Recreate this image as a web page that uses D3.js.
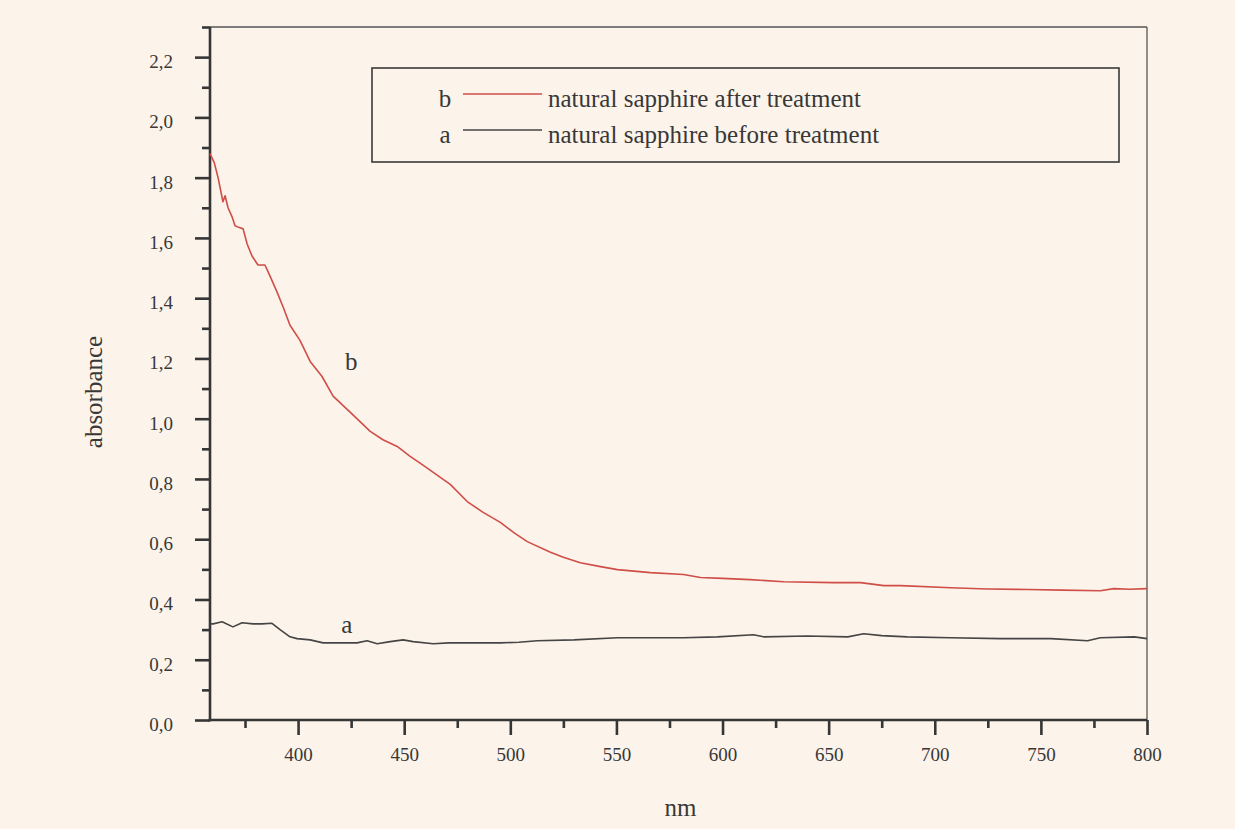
<!DOCTYPE html>
<html>
<head>
<meta charset="utf-8">
<script src="https://cdn.jsdelivr.net/npm/d3@7"></script>
<style>
  html, body { margin: 0; padding: 0; background: #fcf3ea; }
  svg { display: block; }
  text { font-family: "Liberation Serif", "Times New Roman", serif; fill: #383838; }
</style>
</head>
<body>
<svg id="chart" width="1235" height="829"></svg>
<script>
// ---- data ----
const xTickValues = [400, 450, 500, 550, 600, 650, 700, 750, 800];
const yTickValues = [0, 0.2, 0.4, 0.6, 0.8, 1.0, 1.2, 1.4, 1.6, 1.8, 2.0, 2.2];
const seriesNames = ["b", "a"];
const legendLabels = ["natural sapphire after treatment", "natural sapphire before treatment"];

const afterNm = [358.5, 360.5, 362.3, 364.6, 365.6, 367.0, 368.9, 370.3, 372.0, 374.1, 376.0, 378.3, 381.1, 384.4, 387.0, 390.1, 393.0, 396.2, 400.9, 405.7, 411.3, 416.5, 424.5, 434.0, 440.0, 446.7, 452.8, 458.0, 463.7, 471.7, 479.7, 487.0, 495.3, 502.0, 508.0, 518.9, 525.0, 533.0, 542.5, 550.5, 566.0, 581.6, 589.6, 600.0, 613.0, 628.8, 652.0, 665.0, 676.0, 684.0, 707.5, 725.0, 743.9, 760.0, 778.0, 784.4, 792.0, 800.0];
const afterAbs = [1.88, 1.85, 1.80, 1.72, 1.74, 1.70, 1.67, 1.64, 1.635, 1.63, 1.58, 1.54, 1.51, 1.51, 1.47, 1.42, 1.37, 1.31, 1.26, 1.19, 1.14, 1.075, 1.022, 0.958, 0.93, 0.908, 0.875, 0.85, 0.822, 0.782, 0.725, 0.69, 0.656, 0.62, 0.592, 0.557, 0.54, 0.522, 0.509, 0.499, 0.489, 0.483, 0.473, 0.47, 0.466, 0.459, 0.456, 0.456, 0.446, 0.446, 0.439, 0.435, 0.433, 0.431, 0.429, 0.436, 0.434, 0.436];

const beforeNm = [358.5, 360.0, 364.2, 369.3, 373.6, 378.8, 383.0, 387.7, 391.5, 396.2, 399.5, 405.7, 411.8, 419.8, 427.8, 432.5, 437.3, 443.4, 449.5, 454.2, 463.7, 471.0, 479.7, 487.0, 495.3, 504.0, 512.7, 530.0, 550.5, 565.0, 581.6, 597.6, 614.6, 619.3, 640.0, 659.0, 666.5, 675.0, 687.0, 707.5, 731.0, 754.7, 772.0, 778.0, 794.0, 800.0];
const beforeAbs = [0.319, 0.319, 0.326, 0.309, 0.323, 0.319, 0.319, 0.321, 0.30, 0.276, 0.27, 0.266, 0.256, 0.256, 0.256, 0.263, 0.253, 0.26, 0.266, 0.26, 0.253, 0.256, 0.256, 0.256, 0.256, 0.258, 0.263, 0.266, 0.273, 0.273, 0.273, 0.276, 0.283, 0.276, 0.279, 0.276, 0.286, 0.28, 0.276, 0.273, 0.27, 0.27, 0.263, 0.273, 0.276, 0.27];

// ---- layout ----
const svg = d3.select("#chart");
const mLeft = 210, mRight = 1147, mTop = 27, mBottom = 720;
const x = d3.scaleLinear().domain([358.5, 800]).range([mLeft, mRight]);
const y = d3.scaleLinear().domain([0, 2.3]).range([mBottom, mTop]);

const axisColor = "#363636";
const fmt = v => d3.format(".1f")(v).replace(".", ",");

// frame (top and right, thin)
svg.append("line").attr("x1", mLeft).attr("x2", mRight).attr("y1", y(2.3)).attr("y2", y(2.3))
  .attr("stroke", "#555").attr("stroke-width", 1.3);
svg.append("line").attr("x1", mRight).attr("x2", mRight).attr("y1", y(2.3)).attr("y2", mBottom)
  .attr("stroke", "#555").attr("stroke-width", 1.3);

// y axis
const yMinor = d3.range(1, 24, 2).map(i => i / 10);
const yAxis = svg.append("g").attr("transform", `translate(${mLeft},0)`)
  .call(d3.axisLeft(y).tickValues(yTickValues).tickFormat(fmt).tickSize(15).tickPadding(22));
const yAxisMinor = svg.append("g").attr("transform", `translate(${mLeft},0)`)
  .call(d3.axisLeft(y).tickValues(yMinor).tickFormat("").tickSize(8));

// x axis
const xMinor = d3.range(375, 800, 50);
const xAxis = svg.append("g").attr("transform", `translate(0,${mBottom})`)
  .call(d3.axisBottom(x).tickValues(xTickValues).tickFormat(d3.format("d")).tickSize(15).tickPadding(13));
const xAxisMinor = svg.append("g").attr("transform", `translate(0,${mBottom})`)
  .call(d3.axisBottom(x).tickValues(xMinor).tickFormat("").tickSize(8));

[yAxis, yAxisMinor, xAxis, xAxisMinor].forEach(g => {
  g.select(".domain").remove();
  g.selectAll(".tick line").attr("stroke", axisColor).attr("stroke-width", 2.6);
  g.selectAll(".tick text").attr("font-size", 19).attr("fill", "#383838")
    .attr("font-family", '"Liberation Serif", serif');
});
yAxis.selectAll(".tick text").attr("dy", "0.55em");

// axis lines drawn explicitly so they meet in the corner
svg.append("line").attr("x1", mLeft).attr("x2", mLeft).attr("y1", y(2.3)).attr("y2", mBottom + 1.3)
  .attr("stroke", axisColor).attr("stroke-width", 2.6);
svg.append("line").attr("x1", mLeft - 1.3).attr("x2", mRight).attr("y1", mBottom).attr("y2", mBottom)
  .attr("stroke", axisColor).attr("stroke-width", 2.6);

// axis titles
svg.append("text").attr("x", (mLeft + mRight) / 2 + 2).attr("y", 816)
  .attr("text-anchor", "middle").attr("font-size", 25).text("nm");
svg.append("text").attr("transform", "translate(102,392) rotate(-90)")
  .attr("text-anchor", "middle").attr("font-size", 25).text("absorbance");

// curves
const line = d3.line().x(d => x(d[0])).y(d => y(d[1])).curve(d3.curveLinear);
const afterData = afterNm.map((v, i) => [v, afterAbs[i]]);
const beforeData = beforeNm.map((v, i) => [v, beforeAbs[i]]);
svg.append("path").datum(afterData).attr("d", line)
  .attr("fill", "none").attr("stroke", "#cf4e47").attr("stroke-width", 1.6).attr("stroke-linejoin", "round");
svg.append("path").datum(beforeData).attr("d", line)
  .attr("fill", "none").attr("stroke", "#454545").attr("stroke-width", 1.6).attr("stroke-linejoin", "round");

// curve labels
svg.append("text").attr("x", x(425)).attr("y", y(1.16)).attr("text-anchor", "middle")
  .attr("font-size", 25).text(seriesNames[0]);
svg.append("text").attr("x", x(423)).attr("y", y(0.29)).attr("text-anchor", "middle")
  .attr("font-size", 25).text(seriesNames[1]);

// legend
const lg = svg.append("g");
lg.append("rect").attr("x", 372).attr("y", 68).attr("width", 747).attr("height", 94)
  .attr("fill", "none").attr("stroke", "#3a3a3a").attr("stroke-width", 1.6);
const legendColors = ["#cf4e47", "#454545"];
const rowY = [94, 130];
seriesNames.forEach((s, i) => {
  lg.append("text").attr("x", 445).attr("y", rowY[i] + 13).attr("text-anchor", "middle")
    .attr("font-size", 25).text(s);
  lg.append("line").attr("x1", 463).attr("x2", 542).attr("y1", rowY[i]).attr("y2", rowY[i])
    .attr("stroke", legendColors[i]).attr("stroke-width", 1.6);
  lg.append("text").attr("x", 548).attr("y", rowY[i] + 13)
    .attr("font-size", 25).text(legendLabels[i]);
});
</script>
</body>
</html>
